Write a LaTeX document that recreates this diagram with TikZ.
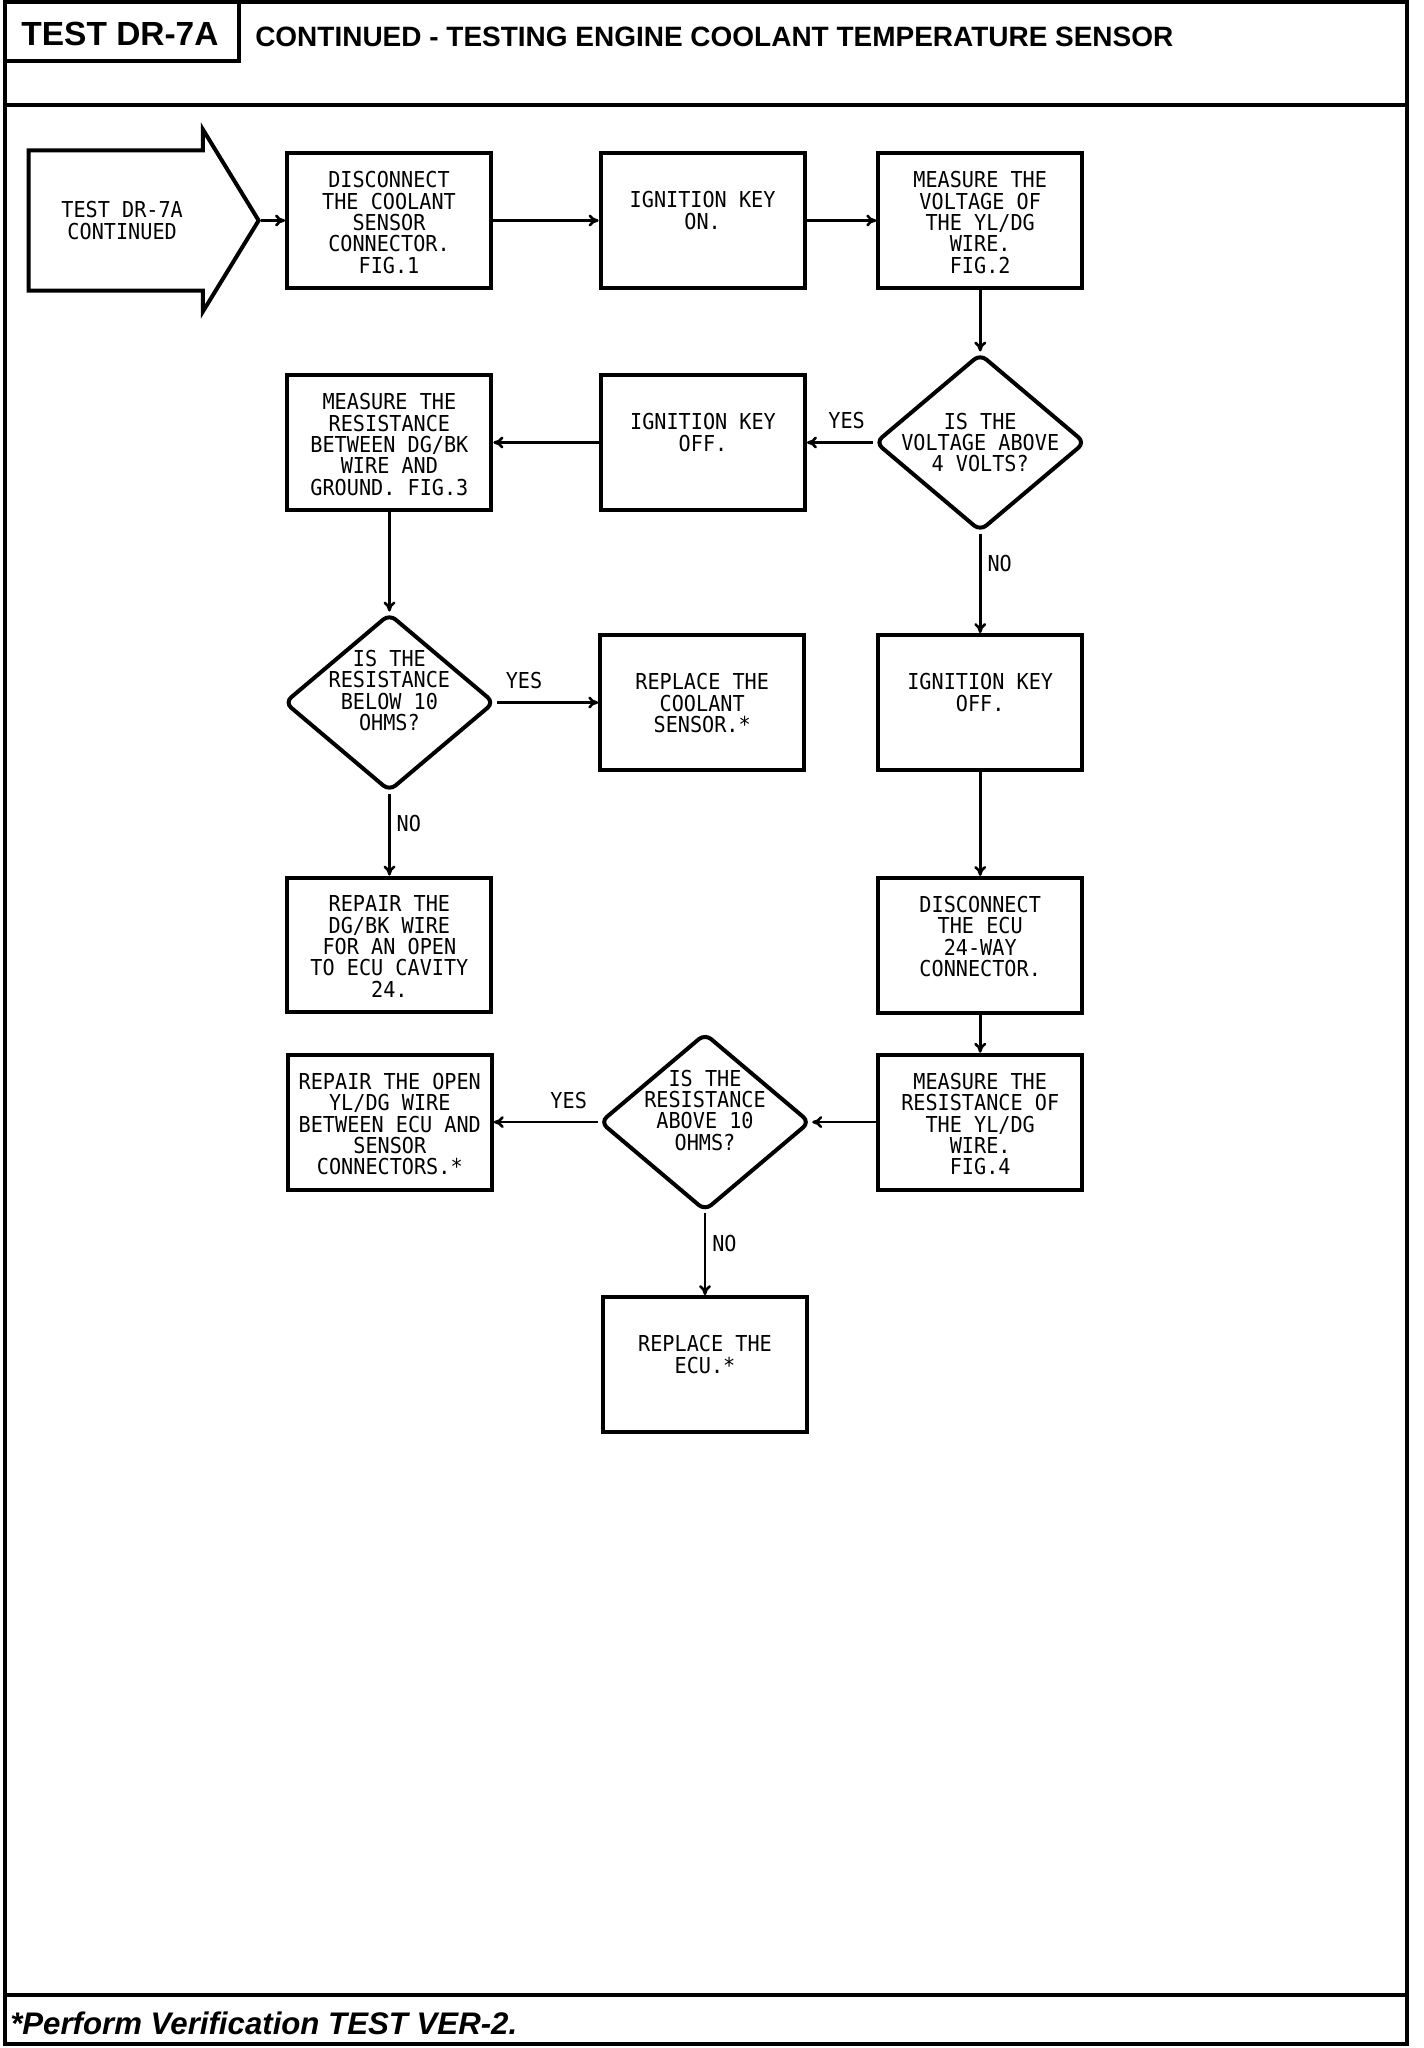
\documentclass[tikz,border=0pt]{standalone}
\usepackage{fontspec}
\setmainfont{Liberation Sans}
\newfontfamily\plotfont{DejaVu Sans Mono}[FakeStretch=0.92]
\usetikzlibrary{arrows.meta,positioning,shapes.geometric,shapes.arrows}

\begin{document}
\begin{tikzpicture}[
  font=\plotfont\fontsize{15.6pt}{15.2pt}\selectfont,
  box/.style={draw, line width=1mm, minimum width=5.1cm, minimum height=3.37cm, inner sep=0pt},
  dia/.style={diamond, draw, line width=1mm, rounded corners=2mm, inner sep=0pt,
    minimum width=5.26cm, minimum height=4.45cm},
  txt/.style={align=center, inner sep=0pt, anchor=north},
  txtlow/.style={txt, yshift=-1cm},
  txthigh/.style={txt, yshift=-0.5cm},
  qtxt/.style={align=center, inner sep=0pt},
  lbl/.style={inner sep=0pt},
  hdr/.style={anchor=base west, inner sep=0pt},
  arr/.style={-{To[length=2.5mm,width=3mm]}, line width=0.65mm}
]
\useasboundingbox (0,0) rectangle (35.6,-51.2);
% frame and title block
\draw[line width=1mm] (0.125,-0.06) rectangle (35.175,-51.1);
\draw[line width=0.8mm] (0.125,-0.06) rectangle (5.975,-1.525);
\draw[line width=1mm] (0.125,-2.6125) -- (35.175,-2.6125);
\draw[line width=1mm] (0.125,-49.875) -- (35.175,-49.875);
\node[anchor=base, inner sep=0pt, font=\rmfamily\bfseries\fontsize{23.8pt}{25pt}\selectfont] (testno) at (3.0,-1.125) {TEST DR-7A};
\node[hdr, font=\rmfamily\bfseries\fontsize{19.9pt}{21pt}\selectfont] (title) at (6.375,-1.15) {CONTINUED - TESTING ENGINE COOLANT TEMPERATURE SENSOR};
\node[hdr, font=\rmfamily\bfseries\itshape\fontsize{22.2pt}{24pt}\selectfont] (verify) at (0.25,-50.85) {*Perform Verification TEST VER-2.};

% flow
\node[single arrow, draw, line width=1mm, anchor=tip, inner xsep=0pt, inner ysep=1.23cm, align=center,
  minimum width=4.4cm, minimum height=5.75cm, single arrow head extend=0.525cm,
  single arrow tip angle=117] (start) at (6.525,-5.5125) {TEST DR-7A\\CONTINUED};
\node[box, label={[txthigh]north:{DISCONNECT\\THE COOLANT\\SENSOR\\CONNECTOR.\\FIG.1}}] (discon) at (9.725,-5.5125) {};
\node[box, right=2.64cm of discon, label={[txtlow]north:{IGNITION KEY\\ON.}}] (keyon) {};
\node[box, right=1.74cm of keyon, label={[txthigh]north:{MEASURE THE\\VOLTAGE OF\\THE YL/DG\\WIRE.\\FIG.2}}] (voltmeas) {};
\node[dia, below=1.54cm of voltmeas, label={[qtxt]center:{IS THE\\VOLTAGE ABOVE\\4 VOLTS?}}] (voltq) {};
\node[box, left=1.65cm of voltq, label={[txtlow]north:{IGNITION KEY\\OFF.}}] (keyoff) {};
\node[box, left=2.64cm of keyoff, label={[txthigh]north:{MEASURE THE\\RESISTANCE\\BETWEEN DG/BK\\WIRE AND\\GROUND. FIG.3}}] (resmeas) {};
\node[dia, below=2.49cm of resmeas, label={[qtxt, yshift=3mm]center:{IS THE\\RESISTANCE\\BELOW 10\\OHMS?}}] (resq) {};
\node[box, right=2.54cm of resq, label={[txtlow]north:{REPLACE THE\\COOLANT\\SENSOR.*}}] (sensor) {};
\node[box, below=2.49cm of voltq, label={[txtlow]north:{IGNITION KEY\\OFF.}}] (keyoff2) {};
\node[box, below=2.05cm of resq, label={[txthigh]north:{REPAIR THE\\DG/BK WIRE\\FOR AN OPEN\\TO ECU CAVITY\\24.}}] (repdg) {};
\node[box, below=2.6cm of keyoff2, label={[txthigh]north:{DISCONNECT\\THE ECU\\24-WAY\\CONNECTOR.}}] (ecuconn) {};
\node[box, below=0.95cm of ecuconn, label={[txthigh]north:{MEASURE THE\\RESISTANCE OF\\THE YL/DG\\WIRE.\\FIG.4}}] (resmeas2) {};
\node[dia, left=1.6cm of resmeas2, label={[qtxt, yshift=3mm]center:{IS THE\\RESISTANCE\\ABOVE 10\\OHMS?}}] (resq2) {};
\node[box, left=2.6cm of resq2, label={[txthigh]north:{REPAIR THE OPEN\\YL/DG WIRE\\BETWEEN ECU AND\\SENSOR\\CONNECTORS.*}}] (repyl) {};
\node[box, below=2.05cm of resq2, label={[txtlow]north:{REPLACE THE\\ECU.*}}] (ecu) {};

\draw[arr] (start.tip) -- (discon);
\draw[arr] (discon) -- (keyon);
\draw[arr] (keyon) -- (voltmeas);
\draw[arr] (voltmeas) -- (voltq);
\draw[arr] (voltq) -- node[lbl, above=3mm, pos=0.4] {YES} (keyoff);
\draw[arr] (keyoff) -- (resmeas);
\draw[arr] (resmeas) -- (resq);
\draw[arr] (resq) -- node[lbl, above=3mm, pos=0.27] {YES} (sensor);
\draw[arr] (resq) -- node[lbl, right=1.5mm, pos=0.37] {NO} (repdg);
\draw[arr] (voltq) -- node[lbl, right=1.5mm, pos=0.3] {NO} (keyoff2);
\draw[arr] (keyoff2) -- (ecuconn);
\draw[arr] (ecuconn) -- (resmeas2);
\draw[arr] (resmeas2) -- (resq2);
\draw[arr] (resq2) -- node[lbl, above=3mm, pos=0.28] {YES} (repyl);
\draw[arr] (resq2) -- node[lbl, right=1.5mm, pos=0.37] {NO} (ecu);
\end{tikzpicture}
\end{document}
